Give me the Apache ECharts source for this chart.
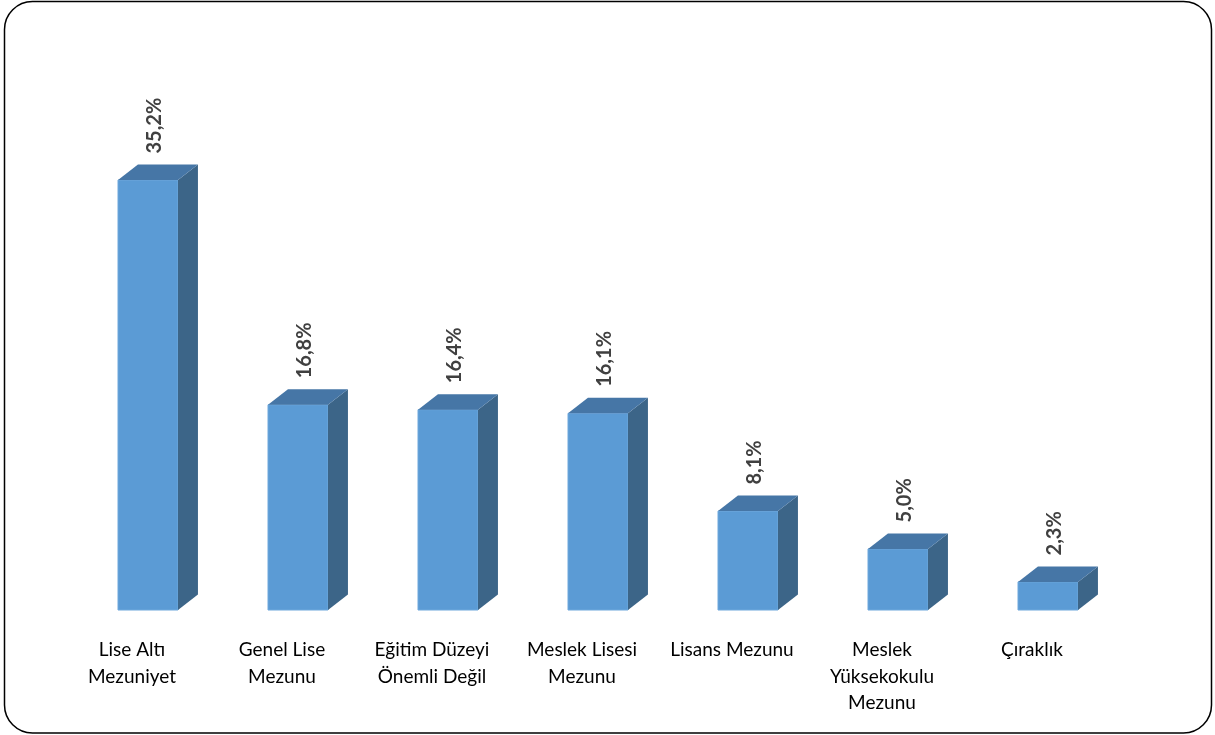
<!DOCTYPE html>
<html><head><meta charset="utf-8">
<script src="https://cdn.jsdelivr.net/npm/echarts@6/dist/echarts.min.js"></script>
<style>html,body{margin:0;padding:0;background:#fff}#c{width:1215px;height:735px}</style>
</head><body><div id="c"></div>
<script>
var categories = ['Lise Altı\nMezuniyet','Genel Lise\nMezunu','Eğitim Düzeyi\nÖnemli Değil','Meslek Lisesi\nMezunu','Lisans Mezunu','Meslek\nYüksekokulu\nMezunu','Çıraklık'];
var values = [35.2, 16.8, 16.4, 16.1, 8.1, 5.0, 2.3];
var valueLabels = ['35,2%','16,8%','16,4%','16,1%','8,1%','5,0%','2,3%'];

var chart = echarts.init(document.getElementById('c'));
function renderItem(params, api){
  var idx = api.value(0), v = api.value(1);
  var top = api.coord([idx, v]);
  var base = api.coord([idx, 0]);
  var band = api.size([1,0])[0];
  var w = band*0.4, dx = band*0.133, dy = 15.5;
  var x0 = top[0]-w/2, x1 = top[0]+w/2, yT = top[1], yB = base[1];
  return {type:'group', children:[
    {type:'rect', shape:{x:x0,y:yT,width:w,height:yB-yT}, style:{fill:'#5B9BD5', stroke:'#6FA8DC', lineWidth:1}},
    {type:'polygon', shape:{points:[[x1,yT],[x1+dx,yT-dy],[x1+dx,yB-dy],[x1,yB]]}, style:{fill:'#3C6588'}},
    {type:'polygon', shape:{points:[[x0,yT],[x0+dx,yT-dy],[x1+dx,yT-dy],[x1,yT]]}, style:{fill:'#4676A6'}},
    {type:'text', x: top[0]+7, y: yT-dy-11, rotation: Math.PI/2,
      style:{text: valueLabels[params.dataIndex], fill:'#404040', font:'bold 20px Lato, "Noto Sans", sans-serif', align:'left', verticalAlign:'middle'}}
  ]};
}
chart.setOption({
  animation:false,
  graphic:[{type:'rect', shape:{x:4.5,y:1.5,width:1207,height:731.5,r:28}, style:{fill:'none', stroke:'#000', lineWidth:1.5}, z:-1}],
  grid:{left:73, right:92, top:121.4, bottom:125},
  xAxis:{type:'category', data:categories, axisLine:{show:false}, axisTick:{show:false},
    axisLabel:{interval:0, color:'#000', fontSize:19, lineHeight:26.5, margin:27, fontFamily:'Lato, "Noto Sans", sans-serif', padding:[0,32,0,0]}},
  yAxis:{type:'value', min:0, max:40, show:false, splitLine:{show:false}},
  series:[{type:'custom', renderItem:renderItem, data: values.map(function(v,i){return [i,v];})}]
});
</script></body></html>
